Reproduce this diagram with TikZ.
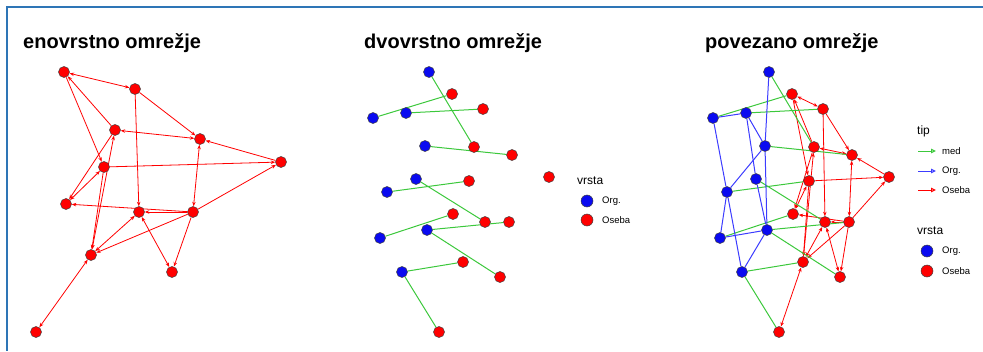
\documentclass[tikz,border=0pt]{standalone}
\usepackage{fontspec}
\setmainfont{Liberation Sans}
\usetikzlibrary{arrows.meta}
\definecolor{osebared}{RGB}{255,0,0}
\definecolor{orgblue}{RGB}{10,10,240}
\definecolor{medgreen}{RGB}{60,200,60}
\definecolor{orgline}{RGB}{60,60,255}
\definecolor{frameblue}{RGB}{46,117,182}
\pgfdeclarelayer{edges}
\pgfsetlayers{edges,main}

\begin{document}
\begin{tikzpicture}[x=1pt,y=-1pt,>={Stealth[length=4.5pt,width=3.5pt]},
	osebanode/.style={circle,draw=black!75,fill=osebared,%
		minimum size=11pt,inner sep=0pt,line width=.5pt},
	orgnode/.style={osebanode,fill=orgblue},
	keydot/.style={minimum size=12pt},
	osebaedge/.style={draw=osebared,line width=.8pt},
	orgedge/.style={draw=orgline,line width=1pt},
	mededge/.style={draw=medgreen,line width=1pt},
	paneltitle/.style={anchor=base west,inner sep=0pt,%
		font=\bfseries\fontsize{20}{24}\selectfont},
	legtitle/.style={anchor=base west,inner sep=0pt,%
		font=\fontsize{12}{14}\selectfont},
	legitem/.style={anchor=west,inner sep=0pt,%
		font=\fontsize{9.5}{11}\selectfont},
	keytip/.style={-{Triangle[open,length=5pt,width=4.5pt]}}]

\useasboundingbox (0,0) rectangle (983,351);
\draw[frameblue,line width=1.5pt] (983,7) -- (7,7) -- (7,351);

% titles
\node[paneltitle] (t1) at (23,48) {enovrstno omrežje};
\node[paneltitle] (t2) at (364,48) {dvovrstno omrežje};
\node[paneltitle] (t3) at (705,48) {povezano omrežje};

% enovrstno: osebe
\foreach \i/\x/\y in {1/64/72, 2/135/89, 3/115/130, 4/200/139, 5/281/162,%
	6/104/167, 7/66/204, 8/139/212, 9/193/212, 10/91/255, 11/172/272, 12/36/332}
	\node[osebanode] (a\i) at (\x,\y) {};

% dvovrstno (d) and povezano (p): same layout, shifted
\foreach \dx/\p in {0/d,340/p}{
	\foreach \i/\x/\y in {1/429/72, 2/373/118, 3/406/113, 4/425/146, 5/416/179,%
		6/387/192, 7/380/238, 8/427/230, 9/402/272}
		\node[orgnode] (\p o\i) at (\x+\dx,\y) {};
	\foreach \i/\x/\y in {1/452/94, 2/483/109, 3/474/147, 4/512/155, 5/549/177,%
		6/469/181, 7/453/214, 8/485/222, 9/509/222, 10/463/262, 11/500/277, 12/439/332}
		\node[osebanode] (\p s\i) at (\x+\dx,\y) {};
}

\begin{pgfonlayer}{edges}
	% oseba -> oseba
	\foreach \p in {a,ps}{
		\foreach \u/\v/\tip in {1/2/<->, 3/1/->, 1/6/->, 2/4/->, 2/8/->, 3/4/<->,%
			3/7/->, 3/10/<->, 6/5/->, 6/7/<->, 6/10/->, 5/4/->, 4/9/<->, 9/5/->,%
			9/7/->, 9/8/->, 9/10/->, 9/11/->, 8/10/<->, 8/11/<->, 10/12/<->}
			\draw[osebaedge,\tip] (\p\u) -- (\p\v);
	}
	% org - oseba
	\foreach \p in {d,p}{
		\foreach \u/\v in {1/3, 2/1, 3/2, 4/4, 5/8, 6/6, 7/7, 8/9, 8/11, 9/10, 9/12}
			\draw[mededge] (\p o\u) -- (\p s\v);
	}
	% org - org
	\foreach \u/\v in {1/4, 4/8, 2/3, 2/6, 3/4, 3/5, 5/8, 4/6, 6/7, 6/9, 7/8, 8/9}
		\draw[orgedge] (po\u) -- (po\v);
\end{pgfonlayer}

% legend dvovrstno
\node[legtitle] (vrsta2) at (577,184.5) {vrsta};
\node[orgnode,keydot] (korg2) at (587,201) {};
\node[osebanode,keydot] (koseba2) at (587,220) {};
\node[legitem] (lorg2) at (602,201) {Org.};
\node[legitem] (loseba2) at (602,220) {Oseba};

% legend povezano
\node[legtitle] (tip3) at (917,134) {tip};
\foreach \k/\y/\c/\txt in {med/151/medgreen/med, org/171/orgline/Org.,%
	oseba/190/osebared/Oseba}{
	\coordinate (\k-a) at (918,\y);
	\coordinate (\k-b) at (936,\y);
	\draw[\c,line width=1pt,keytip] (\k-a) -- (\k-b);
	\node[legitem] (l\k3) at (942,\y) {\txt};
}
\node[legtitle] (vrsta3) at (917,234) {vrsta};
\node[orgnode,keydot] (korg3) at (927,251) {};
\node[osebanode,keydot] (koseba3) at (927,271) {};
\node[legitem] (lorg3) at (942,251) {Org.};
\node[legitem] (loseba3) at (942,271) {Oseba};
\end{tikzpicture}
\end{document}
